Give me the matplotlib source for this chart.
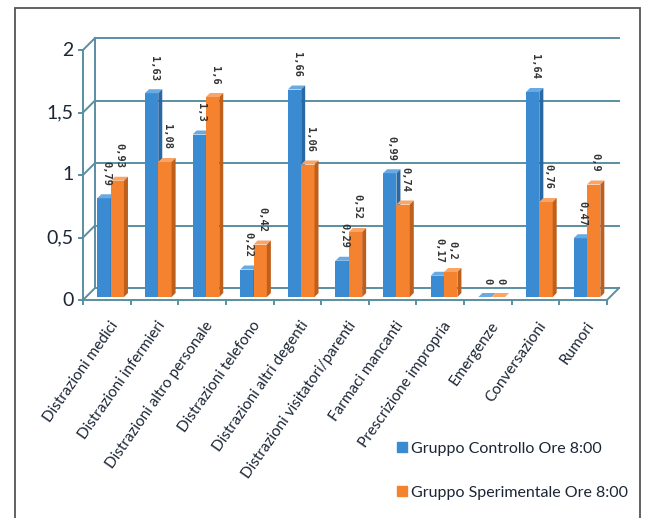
import numpy as np
import matplotlib.pyplot as plt
from matplotlib.patches import Rectangle, Patch

plt.rcParams['font.family'] = ['Lato', 'DejaVu Sans']

categories = ['Distrazioni medici', 'Distrazioni infermieri', 'Distrazioni altro personale',
              'Distrazioni telefono', 'Distrazioni altri degenti', 'Distrazioni visitatori/parenti',
              'Farmaci mancanti', 'Prescrizione impropria', 'Emergenze', 'Conversazioni', 'Rumori']
controllo = [0.79, 1.63, 1.3, 0.22, 1.66, 0.29, 0.99, 0.17, 0, 1.64, 0.47]
sperimentale = [0.93, 1.08, 1.6, 0.42, 1.06, 0.52, 0.74, 0.2, 0, 0.76, 0.9]
series_names = ['Gruppo Controllo Ore 8:00', 'Gruppo Sperimentale Ore 8:00']
yticks = [0, 0.5, 1, 1.5, 2]

# colori: faccia frontale, faccia superiore, fianco
blue = ('#3b8bd2', '#6aaae3', '#2a68a3')
orange = ('#f5822e', '#f9a566', '#bf5f1c')
grid_c = '#5b8ea3'
text_c = '#1c2636'

W, H = 648, 518
fig = plt.figure(figsize=(W / 100, H / 100), dpi=100)
x0, x1, y0, y1 = 83, 607, 300, 50
ax = fig.add_axes([x0 / W, 1 - y0 / H, (x1 - x0) / W, (y0 - y1) / H])
n = len(categories)
ax.set_xlim(0, n)
ax.set_ylim(0, 2)
ax.axis('off')

px_x = (x1 - x0) / n      # pixel per categoria
px_y = (y0 - y1) / 2.0    # pixel per unita'
DX, DY = 12 / px_x, 12 / px_y       # profondita' della parete di fondo
bdx, bdy = 4 / px_x, 4 / px_y       # profondita' delle barre
base = 3 / px_y
kw = dict(clip_on=False, color=grid_c, lw=1.4, zorder=1)

# parete di fondo e griglia
for t in yticks:
    ax.plot([DX, n + DX], [t + DY, t + DY], **kw)
    ax.plot([0, DX], [t, t + DY], **kw)
    ax.plot([-0.08, 0], [t, t], **kw)
ax.plot([DX, DX], [DY, 2 + DY], **kw)
ax.plot([0, 0], [0, 2], **kw)
ax.plot([0, n, n + DX], [0, 0, DY], **kw)
for i in range(n + 1):
    ax.plot([i, i], [0, -0.035], **kw)

for t in yticks:
    ax.text(-0.2, t, f'{t:g}'.replace('.', ','), ha='right', va='center',
            fontsize=14, color=text_c)

bw = 0.28
pos = np.arange(n)
for values, off, cols in [(controllo, 0.30, blue), (sperimentale, 0.58, orange)]:
    xs = pos + off
    ax.bar(xs, values, width=bw, bottom=base, align='edge', color=cols[0],
           zorder=3, clip_on=False)
    for x, v in zip(xs, values):
        top = base + v
        ax.fill([x, x + bdx, x + bw + bdx, x + bw], [top, top + bdy, top + bdy, top],
                color=cols[1], zorder=3, clip_on=False, lw=0)
        ax.fill([x + bw, x + bw + bdx, x + bw + bdx, x + bw],
                [base, base + bdy, top + bdy, top],
                color=cols[2], zorder=3, clip_on=False, lw=0)
        ax.text(x + bw / 2 + bdx / 2, top + 0.1, f'{v:g}'.replace('.', ','),
                rotation=270, ha='center', va='bottom', fontsize=7.5,
                family='DejaVu Sans Mono', fontweight='bold', color='#333333', zorder=4)

for i, name in enumerate(categories):
    ax.text(i + 0.55, -0.15, name, rotation=55, rotation_mode='anchor',
            ha='right', va='top', fontsize=11, color=text_c, clip_on=False)

handles = [Patch(color=blue[0]), Patch(color=orange[0])]
fig.legend(handles, series_names, loc='upper left',
           bbox_to_anchor=(389 / W, 1 - 434 / H), frameon=False,
           fontsize=11.5, handlelength=0.6, handleheight=0.6, handletextpad=0.3,
           labelspacing=1.85, borderpad=0, labelcolor=text_c)

fig.patches.append(Rectangle((15 / W, -0.02), (640 - 15) / W, 1.02 - 8 / H,
                             transform=fig.transFigure, fill=False,
                             edgecolor='#555555', lw=1.3))

fig.savefig('out.png', dpi=100)
